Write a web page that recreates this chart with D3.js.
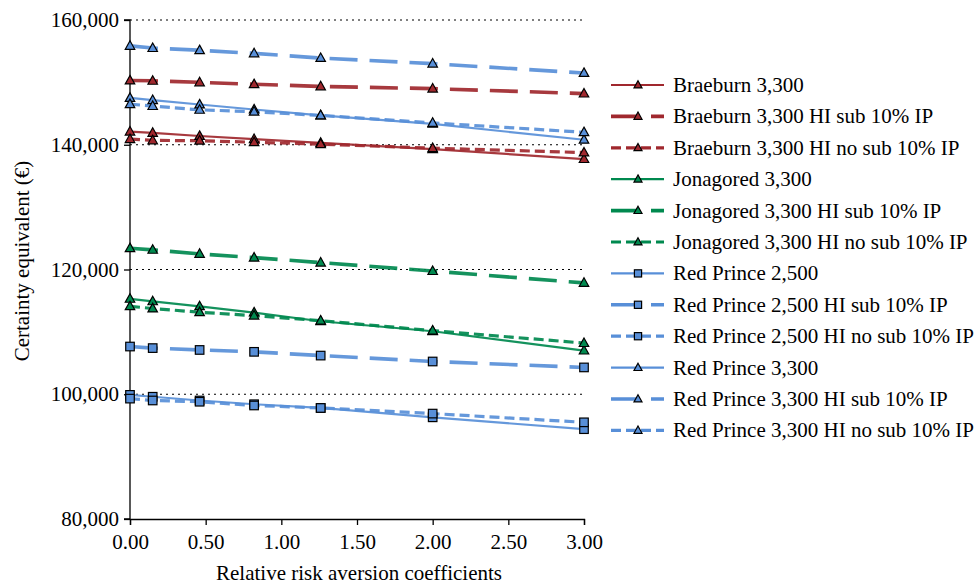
<!DOCTYPE html>
<html><head><meta charset="utf-8">
<script src="https://cdn.jsdelivr.net/npm/d3@7"></script>
<style>
html,body{margin:0;padding:0;background:#fff;}
</style></head>
<body><svg id="chart" width="979" height="584"></svg>
<script>
const rra = [0, 0.15, 0.46, 0.82, 1.26, 2.0, 3.0];
const xTicks = [0, 0.5, 1, 1.5, 2, 2.5, 3];
const yTicks = [80000, 100000, 120000, 140000, 160000];
const gridValues = [100000, 120000, 140000, 160000];

const seriesNames = [
  "Braeburn 3,300", "Braeburn 3,300 HI sub 10% IP", "Braeburn 3,300 HI no sub 10% IP",
  "Jonagored 3,300", "Jonagored 3,300 HI sub 10% IP", "Jonagored 3,300 HI no sub 10% IP",
  "Red Prince 2,500", "Red Prince 2,500 HI sub 10% IP", "Red Prince 2,500 HI no sub 10% IP",
  "Red Prince 3,300", "Red Prince 3,300 HI sub 10% IP", "Red Prince 3,300 HI no sub 10% IP"
];
const braeburn       = [142100, 141900, 141400, 140900, 140300, 139300, 137700];
const braeburnSub    = [150300, 150250, 150000, 149700, 149350, 149000, 148200];
const braeburnNoSub  = [140900, 140700, 140650, 140400, 140100, 139450, 138750];
const jonagored      = [115300, 114900, 114100, 113100, 111700, 110100, 107000];
const jonagoredSub   = [123400, 123150, 122500, 121900, 121100, 119750, 117850];
const jonagoredNoSub = [114100, 113750, 113150, 112600, 111800, 110200, 108200];
const rp2500         = [99900, 99600, 99000, 98400, 97800, 96300, 94400];
const rp2500Sub      = [107650, 107400, 107100, 106800, 106200, 105250, 104300];
const rp2500NoSub    = [99300, 99000, 98800, 98200, 97800, 96900, 95500];
const rp3300         = [147500, 147150, 146450, 145650, 144700, 143350, 140800];
const rp3300Sub      = [155850, 155500, 155150, 154650, 153900, 153000, 151500];
const rp3300NoSub    = [146500, 146200, 145600, 145300, 144700, 143500, 142000];

const seriesValues = [braeburn, braeburnSub, braeburnNoSub, jonagored, jonagoredSub, jonagoredNoSub,
  rp2500, rp2500Sub, rp2500NoSub, rp3300, rp3300Sub, rp3300NoSub];

const RED = "#a0282e", GREEN = "#00894f", BLUE = "#588fd8";
const colors = [RED, RED, RED, GREEN, GREEN, GREEN, BLUE, BLUE, BLUE, BLUE, BLUE, BLUE];
const markers = ["tri","tri","tri","tri","tri","tri","sq","sq","sq","tri","tri","tri"];
const styles = ["solid","long","short","solid","long","short","solid","long","short","solid","long","short"];
const styleDef = {
  solid: {w: 2.2, dash: null},
  long: {w: 3.6, dash: "28,12"},
  short: {w: 3.2, dash: "10,5"}
};
const FONT = "Liberation Serif";
const FS = "21px";

const svg = d3.select("#chart");
const x = d3.scaleLinear().domain([0, 3]).range([130, 584]);
const y = d3.scaleLinear().domain([80000, 160000]).range([519, 20]);

// gridlines
svg.append("g").selectAll("line").data(gridValues).join("line")
  .attr("x1", x(0)).attr("x2", x(3))
  .attr("y1", d => y(d)).attr("y2", d => y(d))
  .attr("stroke", "#000").attr("stroke-width", 1.2).attr("stroke-dasharray", "2,4");

// axes
const fmt = d3.format(",");
const yAxis = svg.append("g").attr("transform", `translate(${x(0)},0)`)
  .call(d3.axisLeft(y).tickValues(yTicks).tickFormat(fmt).tickSize(6).tickPadding(5));
const xAxis = svg.append("g").attr("transform", `translate(0,${y(80000)})`)
  .call(d3.axisBottom(x).tickValues(xTicks).tickFormat(d3.format(".2f")).tickSize(6).tickPadding(4));
[yAxis, xAxis].forEach(g => {
  g.attr("font-family", null).attr("font-size", null);
  g.select(".domain").attr("stroke", "#000").attr("stroke-width", 1.3);
  g.selectAll(".tick line").attr("stroke", "#000").attr("stroke-width", 1.3);
  g.selectAll(".tick text").style("font-family", FONT).style("font-size", FS).attr("fill", "#000");
});
yAxis.select(".domain").attr("d", `M-6,${y(160000)}H0V${y(80000)}H-6`);
xAxis.selectAll(".tick text").attr("dy", null).attr("y", 30);

svg.append("text").attr("transform", `translate(29,261) rotate(-90)`)
  .style("font-family", FONT).style("font-size", FS)
  .attr("text-anchor", "middle").text("Certainty equivalent (€)");
svg.append("text").attr("x", 359).attr("y", 580)
  .style("font-family", FONT).style("font-size", FS)
  .attr("text-anchor", "middle").text("Relative risk aversion coefficients");

function drawMarker(g, type, cx, cy, size, color) {
  if (type === "tri") {
    const h = size * 0.9, hw = size / 2;
    g.append("path").attr("d", `M${cx},${cy - h * 0.6}L${cx + hw},${cy + h * 0.4}L${cx - hw},${cy + h * 0.4}Z`)
      .attr("fill", color).attr("stroke", "#000").attr("stroke-width", 1.2);
  } else {
    const s = size * 0.9;
    g.append("rect").attr("x", cx - s / 2).attr("y", cy - s / 2).attr("width", s).attr("height", s)
      .attr("fill", color).attr("stroke", "#000").attr("stroke-width", 1.2);
  }
}

const line = d3.line().x((d, i) => x(rra[i])).y(d => y(d));
const plot = svg.append("g");
seriesValues.forEach((vals, k) => {
  const st = styleDef[styles[k]];
  plot.append("path").attr("d", line(vals)).attr("fill", "none")
    .attr("stroke", colors[k]).attr("stroke-width", st.w)
    .attr("stroke-dasharray", st.dash).attr("opacity", 0.92);
});
seriesValues.forEach((vals, k) => {
  const g = plot.append("g");
  vals.forEach((v, i) => drawMarker(g, markers[k], x(rra[i]), y(v), 9.5, colors[k]));
});

// legend
const leg = svg.append("g");
seriesNames.forEach((name, k) => {
  const cy = 85 + k * 31.4;
  const st = styleDef[styles[k]];
  leg.append("line").attr("x1", 611).attr("x2", 664).attr("y1", cy).attr("y2", cy)
    .attr("stroke", colors[k]).attr("stroke-width", st.w).attr("stroke-dasharray", st.dash);
  drawMarker(leg, markers[k], 638, cy, 8, colors[k]);
  leg.append("text").attr("x", 673).attr("y", cy + 7)
    .style("font-family", FONT).style("font-size", FS).attr("fill", "#000").text(name);
});
</script></body></html>
